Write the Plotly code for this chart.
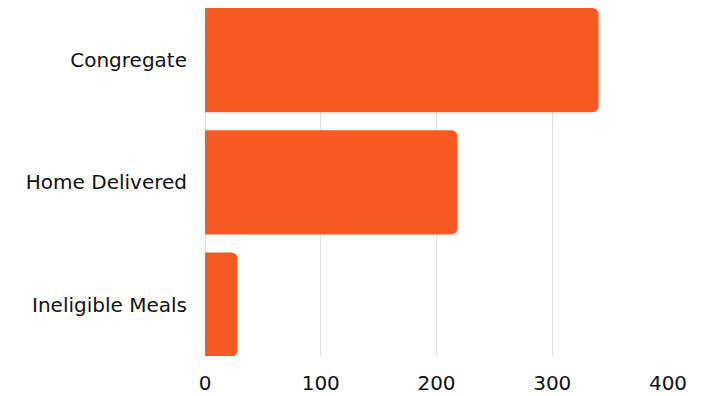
import plotly.graph_objects as go

categories = ["Congregate", "Home Delivered", "Ineligible Meals"]
values = [340, 218, 28]
x_ticks = [0, 100, 200, 300, 400]

fig = go.Figure(go.Bar(
    y=categories, x=values, orientation="h",
    marker=dict(color="#F55A22", line=dict(width=0)),
    width=0.852,
))
# page body has an 8px default margin, so the figure is sized to fill the rest
fig.update_layout(
    width=701, height=388,
    margin=dict(l=197, r=41, t=0, b=40),
    plot_bgcolor="white", paper_bgcolor="white",
    barcornerradius=6,
    showlegend=False,
    font=dict(family="DejaVu Sans", color="#111111", size=20),
)
fig.update_xaxes(
    range=[0, 400], tickvals=x_ticks, showgrid=True, gridcolor="#dddddd",
    gridwidth=1, zeroline=True, zerolinecolor="#dddddd", zerolinewidth=1,
    showline=False, automargin=False,
    ticks="outside", ticklen=9, tickcolor="rgba(0,0,0,0)",
    tickfont=dict(size=20),
)
fig.update_yaxes(
    categoryorder="array", categoryarray=categories,
    range=[2.42, -0.426], showgrid=False, zeroline=False, showline=False,
    automargin=False,
    ticks="outside", ticklen=13, tickcolor="rgba(0,0,0,0)",
    tickfont=dict(size=20),
)
fig.write_html("out.html")
